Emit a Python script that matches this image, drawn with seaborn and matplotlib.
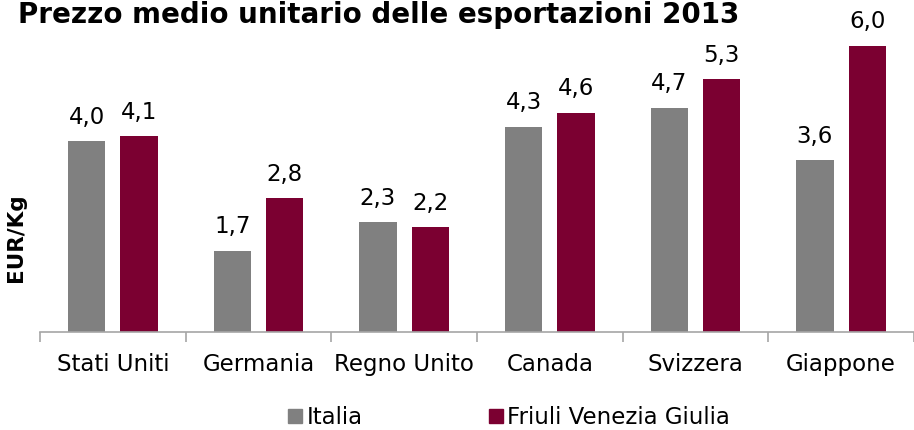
import matplotlib
matplotlib.use("Agg")
import matplotlib.pyplot as plt
import seaborn as sns
import pandas as pd
from matplotlib.lines import Line2D

countries = ["Stati Uniti", "Germania", "Regno Unito", "Canada", "Svizzera", "Giappone"]
italia = [4.0, 1.7, 2.3, 4.3, 4.7, 3.6]
fvg = [4.1, 2.8, 2.2, 4.6, 5.3, 6.0]
series = ["Italia", "Friuli Venezia Giulia"]
colors = ["#808080", "#7B0031"]

df = pd.DataFrame({
    "paese": countries * 2,
    "valore": italia + fvg,
    "serie": [series[0]] * len(countries) + [series[1]] * len(countries),
})

sns.set_style("white")
plt.rcParams["font.family"] = ["DejaVu Sans"]
plt.rcParams["text.color"] = "black"
plt.rcParams["xtick.color"] = "#A6A6A6"
plt.rcParams["xtick.labelcolor"] = "black"
plt.rcParams["axes.labelcolor"] = "black"

fig = plt.figure(figsize=(9.14, 4.30), dpi=100)
ax = fig.add_axes([40 / 914, 98 / 430, 874 / 914, 332 / 430])

sns.barplot(data=df, x="paese", y="valore", hue="serie", palette=colors,
            width=0.72, gap=0.29, saturation=1, ax=ax, legend=False,
            errorbar=None, linewidth=0)

# value labels with decimal comma
for cont in ax.containers:
    ax.bar_label(cont, labels=[f"{v:.1f}".replace(".", ",") for v in cont.datavalues],
                 padding=9, fontsize=16.5, color="black")

ax.set_xlim(-0.5, 5.5 - 14 / 148)
ax.set_ylim(0, 6.96)
ax.set_yticks([])
ax.set_xlabel("")
ax.set_ylabel("EUR/Kg", fontsize=15.5, fontweight="bold")
ax.yaxis.set_label_coords(-0.016, 0.283)
for s in ["top", "right", "left"]:
    ax.spines[s].set_visible(False)
ax.spines["bottom"].set_color("#A6A6A6")
ax.spines["bottom"].set_linewidth(1.2)

ax.tick_params(axis="x", which="major", bottom=False, length=0, labelsize=16.5, pad=15)
ax.set_xticks([i - 0.5 for i in range(len(countries) + 1)], minor=True)
ax.tick_params(axis="x", which="minor", bottom=True, length=7, color="#A6A6A6", width=1.2)

fig.text(0.02, 0.998, "Prezzo medio unitario delle esportazioni 2013",
         fontsize=20, fontweight="bold", va="top", ha="left")

handles = [Line2D([0], [0], marker="s", linestyle="", markersize=10,
                  markerfacecolor=c, markeredgecolor=c) for c in colors]
fig.legend(handles, series, loc="center", bbox_to_anchor=(0.556, 0.03), ncol=2,
           frameon=False, fontsize=16.5, handletextpad=0.1, columnspacing=5.4,
           handlelength=0.8, borderpad=0)

fig.savefig("out.png", dpi=100)
